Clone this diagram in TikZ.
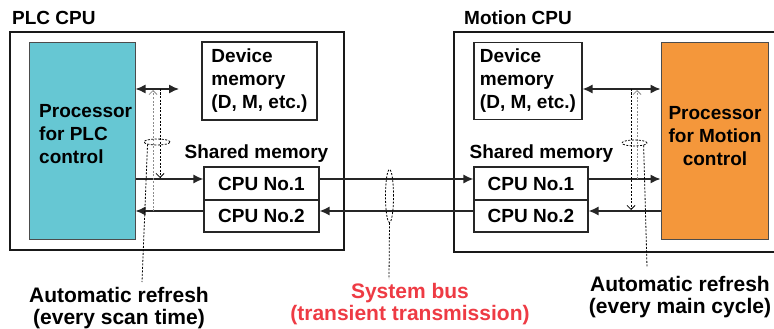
\documentclass[tikz,border=0pt]{standalone}
\usepackage{fontspec}
\setmainfont{Liberation Sans}
\usetikzlibrary{arrows.meta,shapes.geometric}
\definecolor{plccyan}{HTML}{66C7D3}
\definecolor{motionorange}{HTML}{F4973B}
\definecolor{busred}{HTML}{EE3B44}
\begin{document}
\begin{tikzpicture}[
    x=1pt, y=-1pt,
    font=\fontsize{19}{23}\selectfont\bfseries,
    >={Latex[length=10pt,width=9pt]},
    cpu/.style={draw=black!90, line width=2.4pt, minimum width=334pt,
                minimum height=218pt, inner sep=0pt},
    proc/.style={draw=black!70, line width=1pt, minimum width=106pt,
                 minimum height=196pt, inner sep=0pt},
    mem/.style={draw=black!85, fill=white, line width=1.1pt, inner sep=0pt, align=left},
    proctext/.style={inner sep=0pt},
    title/.style={anchor=west, inner sep=0pt},
    note/.style={font=\fontsize{21}{22}\selectfont\bfseries, align=center, inner sep=0pt},
    link/.style={draw=black!85, line width=1.4pt, ->},
    refresh/.style={draw=black, line width=0.8pt, dash pattern=on 2pt off 1.5pt,
                    -{Straight Barb[length=4pt,width=8pt]}},
    refreshgrey/.style={refresh, draw=black!45},
    ring/.style={ellipse, draw=black, line width=0.8pt, dash pattern=on 2pt off 1.5pt,
                 inner sep=0pt},
    leader/.style={draw=black, line width=0.8pt, dash pattern=on 2pt off 1.5pt},
  ]
  \useasboundingbox (0,0) rectangle (774,329);
  \clip (0,0) rectangle (774,329);
  % CPU frames
  \node[title] (plctitle) at (12,18) {PLC CPU};
  \node[title] (mottitle) at (464,18) {Motion CPU};
  \node[cpu] (plc) at (177,141) {};
  \node[cpu, minimum width=336pt, minimum height=220pt] (motion) at (622,142) {};
  % PLC CPU side
  \node[proc, fill=plccyan] (procA) at (82,141) {};
  \node[proctext, align=left, anchor=west] (procAtext) at (39,134) {Processor\\for PLC\\control};
  \node[mem, minimum width=115pt, minimum height=78pt] (devA) at (259.5,81) {Device\\memory\\(D, M, etc.)};
  \node (shareA) at (256.5,154) {Shared memory};
  \node[mem, minimum width=115pt, minimum height=33pt] (cpu1A) at (261.5,183.5) {CPU No.1};
  \node[mem, minimum width=115pt, minimum height=32pt] (cpu2A) at (261.5,216) {CPU No.2};
  % Motion CPU side
  \node[proc, fill=motionorange, minimum width=107pt] (procB) at (714.5,141) {};
  \node[proctext, align=center] (procBtext) at (715,136) {Processor\\for Motion\\control};
  \node[mem, minimum width=108pt, minimum height=77pt] (devB) at (528,81) {Device\\memory\\(D, M, etc.)};
  \node (shareB) at (541.5,154) {Shared memory};
  \node[mem, minimum width=114pt, minimum height=33pt] (cpu1B) at (531,183.5) {CPU No.1};
  \node[mem, minimum width=114pt, minimum height=32pt] (cpu2B) at (531,216) {CPU No.2};
  % rows of the links
  \coordinate (rowA) at (179,89);
  \coordinate (rowB) at (620,89);
  \coordinate (busTop) at (0,179);
  \coordinate (busBot) at (0,211);
  \draw[link, <->] (procA.east |- rowA) -- (rowA);
  \draw[link] (procA.east |- busTop) -- (cpu1A.west |- busTop);
  \draw[link] (cpu2A.west |- busBot) -- (procA.east |- busBot);
  \draw[link] (cpu1A.east |- busTop) -- (cpu1B.west |- busTop);
  \draw[link] (cpu2B.west |- busBot) -- (cpu2A.east |- busBot);
  \draw[link, <->] (devB.east |- rowB) -- (procB.west |- rowB);
  \draw[link] (cpu1B.east |- busTop) -- (procB.west |- busTop);
  \draw[link] (procB.west |- busBot) -- (cpu2B.east |- busBot);
  % automatic refresh
  \coordinate (upA) at (153,90);
  \coordinate (dnA) at (160,178);
  \coordinate (dnB) at (631,210);
  \coordinate (upB) at (637,90);
  \draw[refreshgrey] (upA |- busBot) -- (upA);
  \draw[refresh] (dnA |- rowA) -- (dnA);
  \draw[refresh] (dnB |- rowB) -- (dnB);
  \draw[refreshgrey] (upB |- busTop) -- (upB);
  \node[ring, minimum width=26pt, minimum height=6pt] (ringA) at (157,142) {};
  \node[ring, minimum width=25pt, minimum height=6pt] (ringB) at (634.5,143) {};
  \node[ring, minimum width=8pt, minimum height=53pt] (ringBus) at (389.5,196) {};
  % notes
  \node[note] (noteA) at (119,308) {Automatic refresh\\(every scan time)};
  \node[note, text=busred] (noteBus) at (410,304) {System bus\\(transient transmission)};
  \node[note] (noteB) at (680,297) {Automatic refresh\\(every main cycle)};
  \coordinate (tipA) at (142,282);
  \coordinate (tipBus) at (389,279);
  \coordinate (tipB) at (647,267);
  \draw[leader] (ringA.south west) -- (tipA);
  \draw[leader] (ringBus.south) -- (tipBus);
  \draw[leader] (ringB.south east) -- (tipB);
\end{tikzpicture}
\end{document}
